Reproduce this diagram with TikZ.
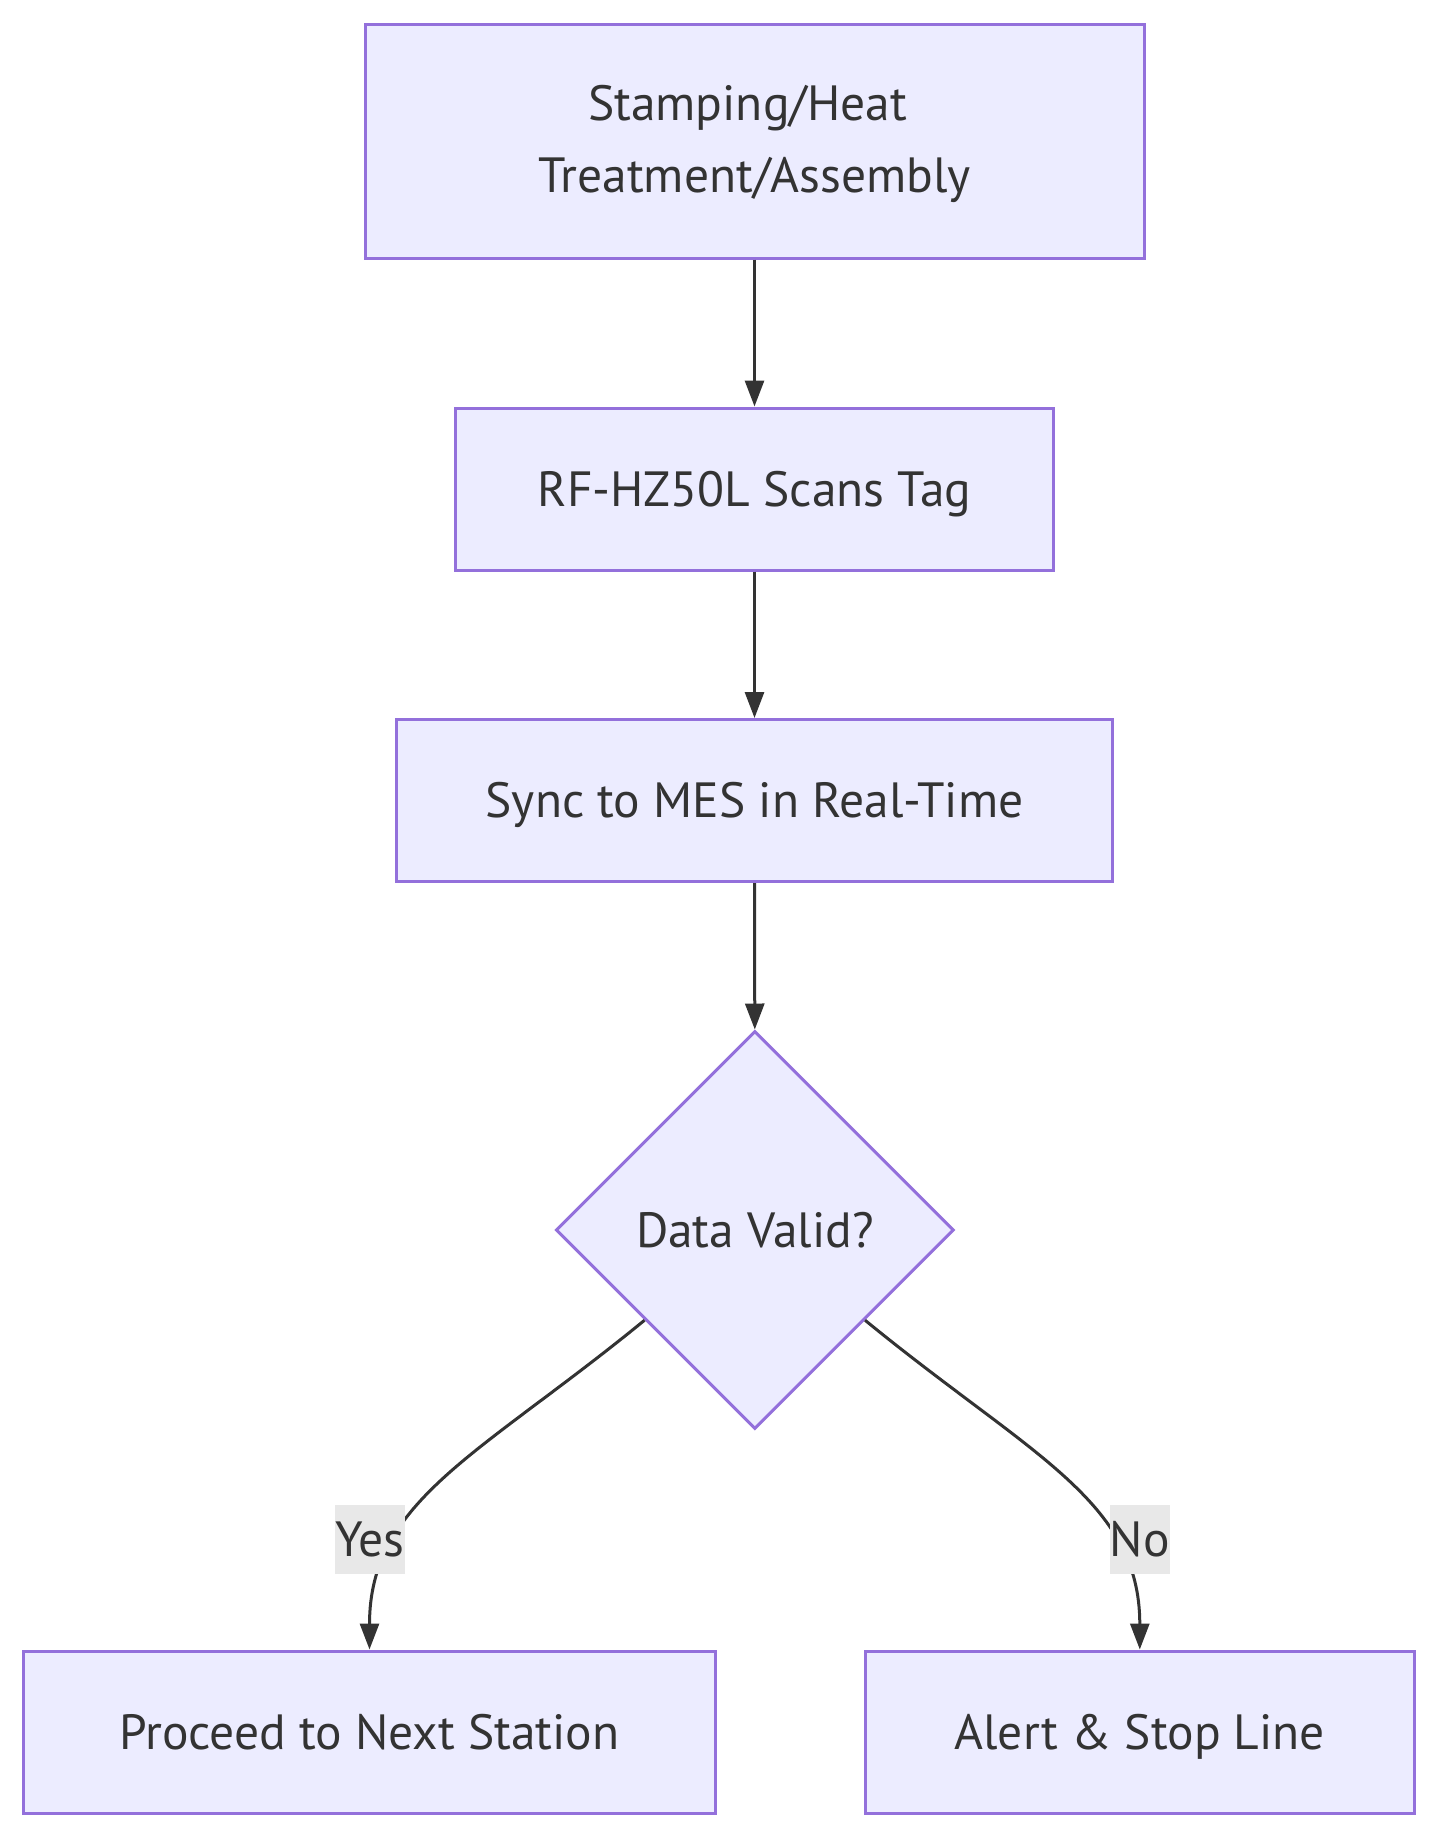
\documentclass[tikz,border=0pt]{standalone}
\usepackage{fontspec}
\setmainfont{PT Sans}
\usetikzlibrary{shapes.geometric,arrows.meta,calc}
\definecolor{nodefill}{HTML}{ECECFF}
\definecolor{nodeborder}{HTML}{9370DB}
\definecolor{ink}{HTML}{333333}
\definecolor{lblbg}{HTML}{E8E8E8}
\begin{document}
\begin{tikzpicture}[x=1pt,y=-1pt,
  box/.style={draw=nodeborder, fill=nodefill, line width=3pt, rectangle, inner sep=0pt,
    text=ink, font=\fontsize{49.5}{72}\selectfont, align=center},
  one/.style={text height=34pt, text depth=0pt},
  dec/.style={draw=nodeborder, fill=nodefill, line width=3pt, diamond, aspect=1, inner sep=0pt,
    minimum width=398pt, minimum height=398pt, text=ink, font=\fontsize{49.5}{72}\selectfont},
  conn/.style={draw=ink, line width=3pt, -{Triangle[length=26pt,width=19pt]}},
  lbl/.style={fill=lblbg, text=ink, inner xsep=0pt, inner ysep=0pt, minimum height=69pt,
    font=\fontsize{49.5}{72}\selectfont}
]
\fill[white] (0,0) rectangle (1438,1837);
\useasboundingbox (0,0) rectangle (1438,1837);

\node[box, text depth=5pt, minimum width=779pt, minimum height=234pt] (n1) at (754.5,141)
  {Stamping/Heat\rule{14pt}{0pt}\\Treatment/Assembly};
\node[box, one, minimum width=598pt, minimum height=162pt] (n2) at (754.5,489) {RF-HZ50L Scans Tag};
\node[box, one, minimum width=716pt, minimum height=162pt] (n3) at (754.5,800.5) {Sync to MES in Real-Time};
\node[dec] (d) at (754.8,1230) {Data Valid?};
\node[box, one, minimum width=691.5pt, minimum height=162pt] (yes) at (369.5,1732) {Proceed to Next Station};
\node[box, one, minimum width=549.6pt, minimum height=162pt] (no) at (1139.8,1732) {Alert \& Stop Line};

\draw[conn] (n1.south) -- (n2.north);
\draw[conn] (n2.south) -- (n3.north);
\draw[conn] (n3.south) -- (d.north);
\draw[conn] ($(d.west)!0.45!(d.south)$) .. controls (480,1455) and (369.5,1500) .. (yes.north);
\draw[conn] ($(d.east)!0.45!(d.south)$) .. controls (1029.6,1455) and (1139.8,1500) .. (no.north);

\node[lbl] (ly) at (370,1539) {Yes};
\node[lbl] (ln) at (1139.8,1539) {No};
\end{tikzpicture}
\end{document}
